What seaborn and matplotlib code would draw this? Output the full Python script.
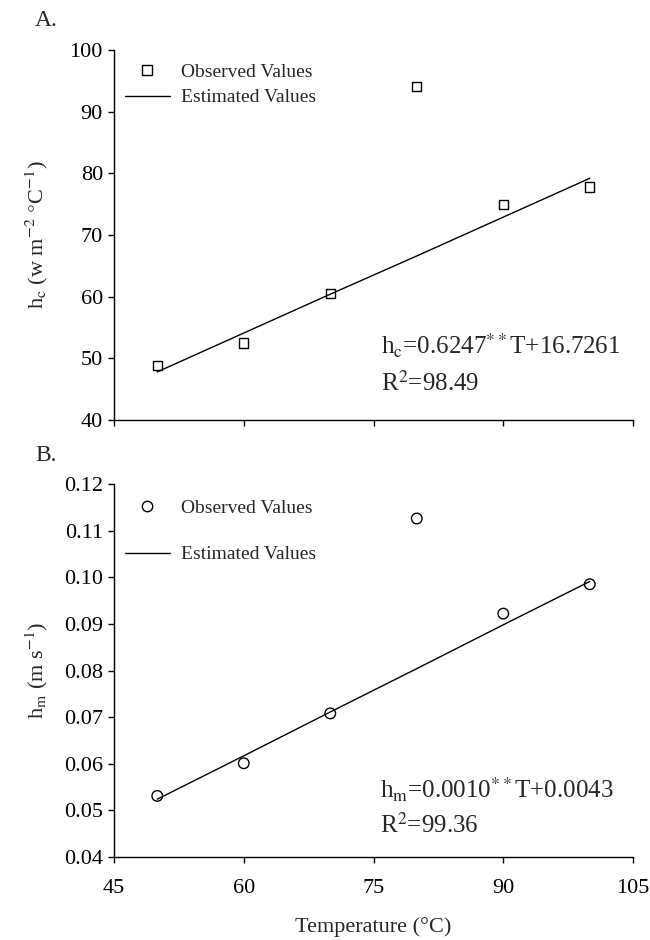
import matplotlib
matplotlib.use("Agg")
import matplotlib.pyplot as plt
import seaborn as sns
import pandas as pd
from matplotlib.lines import Line2D

# ---- data ----
temperature = [50, 60, 70, 80, 90, 100]
hc_observed = [48.8, 52.5, 60.5, 94.1, 75.0, 77.8]
hc_estimated = [47.8, 54.1, 60.4, 66.6, 72.9, 79.2]
hm_observed = [0.0531, 0.0601, 0.0708, 0.1126, 0.0922, 0.0985]
hm_estimated = [0.0524, 0.0617, 0.0711, 0.0804, 0.0898, 0.0991]
x_ticks = [45, 60, 75, 90, 105]
hc_ticks = [40, 50, 60, 70, 80, 90, 100]
hm_ticks = [0.04, 0.05, 0.06, 0.07, 0.08, 0.09, 0.10, 0.11, 0.12]
hm_ticklabels = ["0.04", "0.05", "0.06", "0.07", "0.08", "0.09", "0.10", "0.11", "0.12"]

sns.set_style("ticks")
plt.rcParams["font.family"] = ["Liberation Serif", "DejaVu Serif"]
plt.rcParams["mathtext.fontset"] = "stix"
plt.rcParams["axes.linewidth"] = 1.0
plt.rcParams["xtick.major.size"] = 4
plt.rcParams["ytick.major.size"] = 4
plt.rcParams["xtick.color"] = "black"
plt.rcParams["ytick.color"] = "black"
plt.rcParams["axes.edgecolor"] = "black"

df_hc = pd.DataFrame({"T": temperature, "obs": hc_observed, "est": hc_estimated})
df_hm = pd.DataFrame({"T": temperature, "obs": hm_observed, "est": hm_estimated})

fig = plt.figure(figsize=(6.5, 9.4), dpi=100)
ax1 = fig.add_axes([0.1754, 0.5532, 0.7985, 0.3936])
ax2 = fig.add_axes([0.1754, 0.0883, 0.7985, 0.3968])

tick_fs = 16
leg_fs = 14
eq_fs = 18
lab_fs = 16

def draw(ax, df, marker, msize):
    sns.lineplot(data=df, x="T", y="est", ax=ax, color="black", linewidth=1.0)
    sns.scatterplot(data=df, x="T", y="obs", ax=ax, marker=marker, s=msize,
                    facecolor="none", edgecolor="black", linewidth=1.0, zorder=3)
    ax.set_xlim(45, 105)
    ax.set_xticks(x_ticks)
    sns.despine(ax=ax)
    ax.tick_params(labelsize=tick_fs, direction="out", width=1.0)
    ax.tick_params(axis="x", pad=12)
    ax.tick_params(axis="y", pad=4)

draw(ax1, df_hc, "s", 45)
ax1.set_ylim(40, 100)
ax1.set_yticks(hc_ticks)
ax1.set_xticklabels([])
ax1.set_xlabel("")
ax1.set_ylabel(r"h$_{\mathrm{c}}$ (w m$^{-2}$ $\degree$C$^{-1}$)", fontsize=lab_fs)
ax1.yaxis.set_label_coords(-0.124, 0.5)

draw(ax2, df_hm, "o", 58)
ax2.set_ylim(0.04, 0.12)
ax2.set_yticks(hm_ticks)
ax2.set_yticklabels(hm_ticklabels)
ax2.set_xlabel("Temperature (°C)", fontsize=lab_fs)
ax2.xaxis.set_label_coords(0.5, -0.16)
ax2.set_ylabel(r"h$_{\mathrm{m}}$ (m s$^{-1}$)", fontsize=lab_fs)
ax2.yaxis.set_label_coords(-0.124, 0.5)

# legends
h_sq = Line2D([], [], marker="s", markersize=6.7, markerfacecolor="none",
              markeredgecolor="black", linestyle="none")
h_ci = Line2D([], [], marker="o", markersize=7.5, markerfacecolor="none",
              markeredgecolor="black", linestyle="none")
h_ln = Line2D([], [], color="black", linewidth=1.0)

ax1.legend([h_sq, h_ln], ["Observed Values", "Estimated Values"], loc="upper left",
           bbox_to_anchor=(0.021, 0.965), frameon=False, fontsize=leg_fs,
           handlelength=2.3, handletextpad=0.6, labelspacing=0.42,
           borderpad=0, borderaxespad=0)
ax2.legend([h_ci, h_ln], ["Observed Values", "Estimated Values"], loc="upper left",
           bbox_to_anchor=(0.021, 0.96), frameon=False, fontsize=leg_fs,
           handlelength=2.3, handletextpad=0.6, labelspacing=1.5,
           borderpad=0, borderaxespad=0)

# equations
ax1.text(0.515, 0.20, r"h$_{\mathrm{c}}$=0.6247$^{**}$T+16.7261", transform=ax1.transAxes,
         fontsize=eq_fs, ha="left", va="center")
ax1.text(0.515, 0.10, r"R$^{2}$=98.49", transform=ax1.transAxes,
         fontsize=eq_fs, ha="left", va="center")
ax2.text(0.512, 0.18, r"h$_{\mathrm{m}}$=0.0010$^{**}$T+0.0043", transform=ax2.transAxes,
         fontsize=eq_fs, ha="left", va="center")
ax2.text(0.512, 0.085, r"R$^{2}$=99.36", transform=ax2.transAxes,
         fontsize=eq_fs, ha="left", va="center")

fig.text(0.054, 0.978, "A.", fontsize=17, ha="left", va="center")
fig.text(0.054, 0.515, "B.", fontsize=17, ha="left", va="center")

fig.savefig("out.png", dpi=100)
